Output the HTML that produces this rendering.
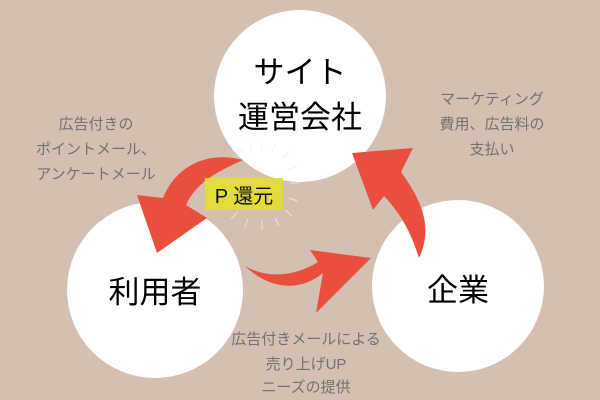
<!DOCTYPE html>
<html><head><meta charset="utf-8"><style>
html,body{margin:0;padding:0;background:#d3c0b3;}
svg{display:block}
text{font-family:"Liberation Sans","Noto Sans CJK JP",sans-serif;}
</style></head><body>
<svg width="600" height="400" viewBox="0 0 600 400" xmlns="http://www.w3.org/2000/svg">
<rect width="600" height="400" fill="#d3c0b3"/>
<circle cx="300" cy="96" r="86" fill="#fff"/>
<circle cx="155" cy="290" r="88" fill="#fff"/>
<circle cx="458" cy="286" r="86" fill="#fff"/>
<g stroke="#f4ece6" stroke-width="1" opacity="0.8">
<line x1="244" y1="153" x2="238" y2="147"/><line x1="252" y1="150" x2="249" y2="142"/><line x1="262" y1="150" x2="262" y2="141"/><line x1="272" y1="152" x2="275" y2="144"/><line x1="283" y1="158" x2="289" y2="152"/><line x1="288" y1="170" x2="296" y2="167"/><line x1="290" y1="183" x2="299" y2="183"/><line x1="289" y1="198" x2="297" y2="201"/><line x1="285" y1="210" x2="292" y2="216"/><line x1="275" y1="218" x2="279" y2="226"/><line x1="262" y1="221" x2="262" y2="230"/><line x1="248" y1="219" x2="245" y2="227"/><line x1="237" y1="213" x2="231" y2="219"/>
</g>
<path d="M243,160 C205,150 175,168 163,198 L137,195 L157,253 L207,218 L186,205 C196,183 216,172 243,160 Z" fill="#e84f3d"/>
<path d="M245,266 C270,290 300,292 323,273 L316,313 L371,258 L310,250 L318,262 C297,275 270,280 245,266 Z" fill="#e84f3d"/>
<path d="M419,258 C432,230 425,205 401,172 L413,148 L352,153 L373,210 L384,196 C402,215 412,235 419,258 Z" fill="#e84f3d"/>
<rect x="205" y="178" width="78" height="32" fill="#e2dc3a"/>
<text x="244" y="203" font-size="20" text-anchor="middle" fill="#111">P 還元</text>
<g font-size="31" text-anchor="middle" fill="#000">
<text x="300" y="83">サイト</text>
<text x="300" y="128">運営会社</text>
<text x="155" y="303">利用者</text>
<text x="458" y="301">企業</text>
</g>
<g font-size="15" fill="#727272" text-anchor="middle">
<text x="96" y="129">広告付きの</text>
<text x="96" y="154">ポイントメール、</text>
<text x="96" y="179">アンケートメール</text>
<text x="492" y="104">マーケティング</text>
<text x="492" y="129">費用、広告料の</text>
<text x="492" y="154">支払い</text>
<text x="306" y="344">広告付きメールによる</text>
<text x="306" y="369">売り上げUP</text>
<text x="306" y="392">ニーズの提供</text>
</g>
</svg>
</body></html>
